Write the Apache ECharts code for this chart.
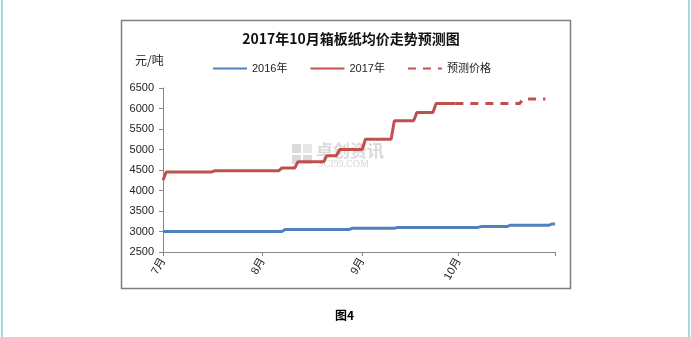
<!DOCTYPE html>
<html>
<head>
<meta charset="utf-8">
<style>
  html, body { margin: 0; padding: 0; background: #fff; }
  #chart { width: 691px; height: 337px; }
</style>
<script src="https://cdn.jsdelivr.net/npm/echarts@6/dist/echarts.min.js"></script>
</head>
<body>
<div id="chart"></div>
<script>
// Months on the x axis and their lengths (one category per day)
const monthNames = ['7月', '8月', '9月', '10月'];
const monthDays = [31, 31, 30, 31];

// Daily average price, 元/吨 — 2016 (Jul 1 .. Oct 31)
const price2016 = [
  3000,3000,3000,3000,3000,3000,3000,3000,3000,3000,3000,3000,3000,3000,3000,3000,3000,3000,3000,3000,
  3000,3000,3000,3000,3000,3000,3000,3000,3000,3000,3000,3000,3000,3000,3000,3000,3000,3000,
  3050,3050,3050,3050,3050,3050,3050,3050,3050,3050,3050,3050,3050,3050,3050,3050,3050,3050,3050,3050,3050,
  3080,3080,3080,3080,3080,3080,3080,3080,3080,3080,3080,3080,3080,3080,
  3100,3100,3100,3100,3100,3100,3100,3100,3100,3100,3100,3100,3100,3100,3100,3100,3100,3100,3100,3100,3100,3100,3100,3100,3100,3100,
  3120,3120,3120,3120,3120,3120,3120,3120,3120,
  3150,3150,3150,3150,3150,3150,3150,3150,3150,3150,3150,3150,3150,
  3180,3180
];

// Daily average price, 元/吨 — 2017 (Jul 1 .. Sep 30, actual)
const price2017 = [
  4250,
  4450,4450,4450,4450,4450,4450,4450,4450,4450,4450,4450,4450,4450,4450,4450,
  4480,4480,4480,4480,4480,4480,4480,4480,4480,4480,4480,4480,4480,4480,4480,4480,4480,4480,4480,4480,4480,
  4550,4550,4550,4550,4550,
  4700,4700,4700,4700,4700,4700,4700,4700,4700,
  4850,4850,4850,4850,
  5000,5000,5000,5000,5000,5000,5000,5000,
  5250,5250,5250,5250,5250,5250,5250,5250,5250,
  5700,5700,5700,5700,5700,5700,5700,
  5900,5900,5900,5900,5900,5900,
  6120,6120,6120,6120,6120,6120,6120
];

// Forecast price for October 2017, starting on the last actual day (day index 91)
const forecastStart = 91;
const forecast = [
  6120,6120,6120,6120,6120,6120,6120,6120,6120,6120,6120,6120,6120,6120,6120,6120,6120,6120,6120,6120,6120,
  6230,6230,6230,6230,6230,6230,6230,6230
];

// Category list: one entry per day, the first day of each month carries the month name
const categories = [];
const monthStart = {};
monthNames.forEach((m, i) => {
  monthStart[categories.length] = m;
  for (let d = 1; d <= monthDays[i]; d++) categories.push((7 + i) + '/' + d);
});
const lastIndex = categories.length - 1;

const forecastSeries = new Array(forecastStart).fill(null).concat(forecast);

const FONT = '"Liberation Sans", "Noto Sans CJK SC", sans-serif';
const BLUE = '#4f81bd';
const RED = '#c0504d';

const chart = echarts.init(document.getElementById('chart'));
chart.setOption({
  animation: false,
  backgroundColor: '#fff',
  title: {
    text: '2017年10月箱板纸均价走势预测图',
    left: 346, top: 27, textAlign: 'center',
    textStyle: { fontFamily: '"Noto Sans CJK SC", sans-serif', fontSize: 14, fontWeight: 'bold', color: '#111' }
  },
  legend: {
    left: 207, top: 58,
    itemWidth: 34, itemHeight: 12, itemGap: 22,
    itemStyle: { opacity: 0 },
    textStyle: { fontFamily: FONT, fontSize: 11, color: '#222' },
    data: ['2016年', '2017年', '预测价格']
  },
  grid: { left: 163, right: 136, top: 88, bottom: 85, containLabel: false },
  xAxis: {
    type: 'category',
    boundaryGap: false,
    data: categories,
    axisLine: { lineStyle: { color: '#868686', width: 1 } },
    axisTick: {
      length: 4,
      interval: (idx) => monthStart[idx] !== undefined || idx === lastIndex,
      lineStyle: { color: '#868686' }
    },
    axisLabel: {
      interval: (idx) => monthStart[idx] !== undefined,
      formatter: (v, idx) => monthStart[idx] || '',
      rotate: 60,
      margin: 7,
      fontFamily: FONT, fontSize: 11, color: '#222'
    },
    splitLine: { show: false }
  },
  yAxis: {
    type: 'value',
    min: 2500, max: 6500, interval: 500,
    axisLine: { show: true, lineStyle: { color: '#868686', width: 1 } },
    axisTick: { show: true, length: 4, lineStyle: { color: '#868686' } },
    axisLabel: { margin: 9, formatter: (v) => String(v), fontFamily: FONT, fontSize: 11, color: '#222' },
    splitLine: { show: false }
  },
  series: [
    {
      name: '2016年', type: 'line', data: price2016,
      symbol: 'none', lineStyle: { color: BLUE, width: 3 }, itemStyle: { color: BLUE }, z: 3
    },
    {
      name: '2017年', type: 'line', data: price2017,
      symbol: 'none', lineStyle: { color: RED, width: 3 }, itemStyle: { color: RED }, z: 4
    },
    {
      name: '预测价格', type: 'line', data: forecastSeries,
      symbol: 'none',
      lineStyle: { color: RED, width: 3, type: [8, 7] }, itemStyle: { color: RED }, z: 4
    }
  ],
  graphic: [
    // page side rules
    { type: 'rect', shape: { x: 1, y: 0, width: 2, height: 337 }, style: { fill: '#9fdce3' }, silent: true },
    { type: 'rect', shape: { x: 688, y: 0, width: 2, height: 337 }, style: { fill: '#9fdce3' }, silent: true },
    // chart frame
    { type: 'rect', shape: { x: 121.5, y: 20.5, width: 449, height: 268 },
      style: { fill: 'none', stroke: '#7f7f7f', lineWidth: 1.5 }, silent: true, z: 0 },
    // unit label
    { type: 'text', left: 135, top: 54,
      style: { text: '元/吨', font: '12px "Noto Sans CJK SC", sans-serif', fill: '#222' } },
    // watermark
    { type: 'group', left: 292, top: 142, z: 1, silent: true, children: [
      { type: 'rect', shape: { x: 0, y: 2, width: 9, height: 9 }, style: { fill: '#dadada' } },
      { type: 'rect', shape: { x: 11, y: 2, width: 9, height: 9 }, style: { fill: '#e8e8e8' } },
      { type: 'rect', shape: { x: 0, y: 13, width: 9, height: 9 }, style: { fill: '#dadada' } },
      { type: 'rect', shape: { x: 11, y: 13, width: 9, height: 9 }, style: { fill: '#dadada' } },
      { type: 'text', x: 24, y: 0,
        style: { text: '卓创资讯', font: 'bold 17px "Noto Sans CJK SC", sans-serif', fill: '#dadada' } },
      { type: 'text', x: 26, y: 17,
        style: { text: 'SCI99.COM', font: '10px "Liberation Serif", serif', fill: '#d6d6d6' } }
    ] },
    // figure caption
    { type: 'text', left: 335, top: 309,
      style: { text: '图4', font: 'bold 12px "Noto Sans CJK SC", sans-serif', fill: '#000' } }
  ]
});
</script>
</body>
</html>
